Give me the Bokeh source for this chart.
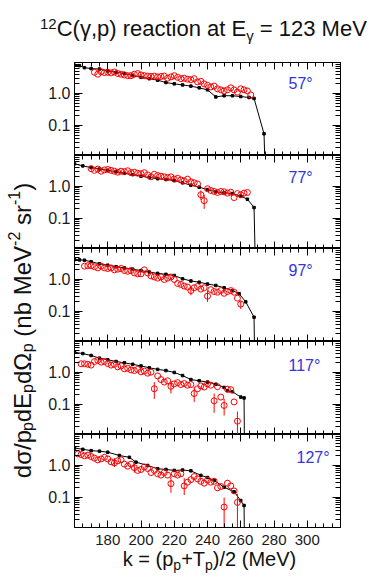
import math
from bokeh.plotting import figure
from bokeh.layouts import column, row
from bokeh.models import Range1d, LinearAxis, LogAxis, FixedTicker, PrintfTickFormatter, Label, Div
from bokeh.embed import file_html
from bokeh.resources import INLINE

FONT = "Liberation Sans"
CSS_FONT = "'Liberation Sans', Arial, sans-serif"
RED = "#ff0000"
BLUE = "#3434d8"

# ---------------- data ----------------
angles = ["57°", "77°", "97°", "117°", "127°"]

# 57 deg: measured (red) and calculation (black)
k57 = [172, 174, 176, 178, 180, 182, 184, 186, 188, 190, 192, 194, 196, 198, 200, 202, 204, 206, 208, 210,
       212, 214, 216, 218, 220, 222, 224, 226, 228, 230, 232, 234, 236, 238, 240, 242, 244, 246, 248, 250,
       252, 254, 256, 258, 260, 262, 264, 266]
v57 = [4.6, 4.0, 4.8, 4.5, 4.6, 4.4, 4.7, 4.2, 4.0, 3.8, 3.6, 3.6, 4.0, 4.2, 3.8, 3.6, 3.5, 3.4, 3.5, 3.3,
       3.4, 3.5, 3.0, 3.3, 3.6, 3.2, 2.9, 3.0, 2.8, 2.7, 2.9, 2.3, 2.4, 2.0, 1.8, 1.6, 1.7, 1.4, 1.3, 1.2,
       1.3, 1.5, 1.3, 1.1, 1.4, 1.3, 1.2, 0.9]
kc57 = [160, 163, 166, 170, 175, 180, 185, 190, 195, 200, 205, 210, 215, 220, 225, 230, 235, 240, 245, 250,
        255, 260, 265, 268, 274, 275]
c57 = [7.6, 7.4, 6.4, 6.0, 5.8, 5.0, 4.6, 4.2, 3.6, 3.2, 2.9, 2.6, 2.2, 2.0, 1.85, 1.7, 1.5, 1.3, 0.78, 0.85,
       0.85, 0.8, 0.75, 0.7, 0.055, 0.001]
ek57, elo57, ehi57 = [], [], []

# 77 deg
k77 = [170, 172, 174, 176, 178, 180, 182, 184, 186, 188, 190, 192, 194, 196, 198, 200, 202, 204, 206, 208,
       210, 212, 214, 216, 218, 220, 222, 224, 226, 228, 230, 232, 234, 236, 238, 240, 242, 244, 246, 248,
       250, 252, 254, 256, 258, 260, 262, 264]
v77 = [3.6, 3.2, 3.5, 3.0, 3.3, 3.4, 3.2, 3.0, 2.8, 3.0, 2.9, 3.1, 2.7, 2.8, 2.6, 2.5, 2.7, 2.3, 2.0, 2.4,
       2.2, 2.1, 2.0, 1.9, 2.0, 1.7, 1.8, 1.6, 1.5, 1.7, 1.4, 1.3, 1.2, 0.55, 0.36, 0.85, 0.75, 0.7, 0.65, 0.7,
       0.68, 0.62, 0.66, 0.45, 0.6, 0.55, 0.62, 0.65]
kc77 = [160, 165, 170, 175, 180, 185, 190, 195, 200, 205, 210, 215, 220, 225, 230, 235, 240, 245, 250, 255,
        260, 264, 268, 269]
c77 = [5.1, 4.4, 3.9, 3.5, 3.2, 2.9, 2.6, 2.35, 2.1, 1.9, 1.75, 1.65, 1.54, 1.3, 1.1, 0.95, 0.8, 0.68, 0.64, 0.6,
       0.5, 0.4, 0.22, 0.001]
ek77, elo77, ehi77 = [236, 238], [0.38, 0.2], [0.75, 0.55]

# 97 deg
k97 = [166, 168, 170, 172, 174, 176, 178, 180, 182, 184, 186, 188, 190, 192, 194, 196, 198, 200, 202, 204,
       206, 208, 210, 212, 214, 216, 218, 220, 222, 224, 226, 228, 230, 232, 234, 236, 238, 240, 242, 244,
       246, 248, 250, 252, 254, 256, 258, 260]
v97 = [2.6, 2.7, 2.7, 2.5, 2.3, 2.6, 2.3, 2.2, 2.3, 2.0, 2.1, 2.2, 1.9, 1.8, 1.9, 1.6, 1.5, 1.5, 2.0, 1.6,
       1.3, 1.2, 1.1, 1.2, 1.0, 1.1, 1.2, 1.0, 0.75, 0.7, 0.62, 0.58, 0.45, 0.55, 0.6, 0.5, 0.55, 0.3, 0.48, 0.42,
       0.4, 0.45, 0.37, 0.42, 0.45, 0.4, 0.26, 0.17]
kc97 = [160, 163, 166, 170, 175, 180, 185, 190, 195, 200, 205, 210, 215, 220, 225, 230, 235, 240, 245, 250,
        255, 259, 263, 268, 268.5]
c97 = [4.2, 4.1, 4.0, 3.6, 3.1, 2.8, 2.5, 2.3, 2.1, 1.9, 1.7, 1.55, 1.45, 1.33, 1.05, 0.9, 0.82, 0.72, 0.65, 0.55,
       0.45, 0.36, 0.2, 0.066, 0.001]
ek97, elo97, ehi97 = [230, 240, 260], [0.32, 0.2, 0.12], [0.6, 0.45, 0.22]

# 117 deg
k117 = [164, 166, 168, 170, 172, 174, 176, 178, 180, 182, 184, 186, 188, 190, 192, 194, 196, 198, 200, 202,
        204, 206, 208, 210, 212, 214, 216, 218, 220, 222, 224, 226, 228, 230, 232, 234, 236, 238, 240, 242,
        244, 246, 248, 250, 252, 254, 256, 258]
v117 = [1.87, 1.87, 1.8, 1.7, 2.2, 2.4, 2.1, 2.2, 1.9, 1.7, 1.8, 1.5, 1.6, 1.3, 1.35, 1.2, 1.15, 1.25, 1.05, 1.1,
        0.95, 1.02, 0.31, 0.78, 0.6, 0.5, 0.55, 0.37, 0.44, 0.48, 0.42, 0.45, 0.4, 0.42, 0.22, 0.31, 0.38, 0.35,
        0.44, 0.4, 0.13, 0.36, 0.17, 0.093, 0.3, 0.29, 0.12, 0.03]
kc117 = [160, 165, 170, 175, 180, 185, 190, 195, 200, 205, 210, 215, 220, 225, 230, 235, 240, 245, 250, 252,
         255, 260, 262, 262.3]
c117 = [4.3, 3.9, 3.4, 2.8, 2.5, 2.2, 2.0, 1.8, 1.6, 1.4, 1.25, 1.15, 1.0, 0.8, 0.6, 0.55, 0.5, 0.43, 0.34, 0.27,
        0.25, 0.17, 0.16, 0.001]
ek117 = [208, 218, 232, 244, 250, 258]
elo117 = [0.15, 0.22, 0.12, 0.055, 0.045, 0.005]
ehi117 = [0.5, 0.55, 0.35, 0.22, 0.15, 0.06]

# 127 deg
k127 = [162, 164, 166, 168, 170, 172, 174, 176, 178, 180, 182, 184, 186, 188, 190, 192, 194, 196, 198, 200,
        202, 204, 206, 208, 210, 212, 214, 216, 218, 220, 222, 224, 226, 228, 230, 232, 234, 236, 238, 240,
        242, 244, 246, 248, 250, 252, 254, 256, 258]
v127 = [2.3, 2.2, 2.0, 2.1, 1.9, 1.7, 1.5, 1.6, 1.8, 1.6, 1.3, 1.2, 1.4, 1.5, 1.1, 0.95, 1.1, 0.85, 0.7, 0.75,
        0.9, 0.8, 0.6, 0.7, 0.55, 0.5, 0.6, 0.5, 0.27, 0.55, 0.5, 0.55, 0.23, 0.3, 0.36, 0.45, 0.38, 0.32, 0.28,
        0.35, 0.3, 0.32, 0.2, 0.22, 0.05, 0.28, 0.23, 0.16, 0.07]
kc127 = [160, 165, 170, 175, 180, 187, 193, 197, 204, 210, 215, 220, 225, 230, 236, 240, 244, 250, 256, 260,
         262, 262.3]
c127 = [3.5, 3.2, 2.9, 2.8, 2.6, 2.05, 1.8, 1.27, 1.0, 0.79, 0.75, 0.7, 0.72, 0.68, 0.49, 0.42, 0.34, 0.21, 0.15,
        0.08, 0.056, 0.001]
ek127 = [184, 196, 218, 226, 250, 258]
elo127 = [0.9, 0.6, 0.14, 0.12, 0.001, 0.001]
ehi127 = [1.7, 1.1, 0.45, 0.4, 0.1, 0.13]

xticks_major = [180, 200, 220, 240, 260, 280, 300]
xticks_minor = list(range(160, 325, 5))
yticks_major = [0.01, 0.1, 1.0, 10.0]
yticks_minor = [m * d for d in (0.01, 0.1, 1.0) for m in range(2, 10)]

# ---------------- layout constants (page px; Bokeh's page has no body margin) ----------------
X0, X1 = 160, 320
Y0, Y1 = 0.0115, 9.3
FW, FH = 266, 93
STRIP_W = 44
LB, RB = 74 - STRIP_W, 35
PW = LB + FW + RB
TITLE_H = 62
BB = 24
XL_H = 27
STRIP_H = 5 * FH + BB + XL_H
BOTTOM = TITLE_H + STRIP_H

AW = {'k': 500, ' ': 278, '=': 584, '(': 333, ')': 333, 'p': 556, '+': 584, 'T': 611, '/': 278,
      '0': 556, '1': 556, '2': 556, '3': 556, 'M': 833, 'e': 556, 'V': 667, 'C': 722, 'γ': 500,
      ',': 278, 'r': 333, 'a': 556, 'c': 500, 't': 278, 'i': 222, 'o': 556, 'n': 556, 'E': 667,
      'd': 556, 'σ': 570, 'Ω': 768, 'b': 556, 's': 500, '-': 333}


def tw(s, px):
    return sum(AW.get(c, 556) for c in s) * px / 1000.0


def rich_rotated(fig, x, y, parts, color="#111111"):
    """Text reading bottom-to-top. parts: (text, font px, shift 'up' in px)."""
    for text, size, up in parts:
        lead = len(text) - len(text.lstrip(" "))
        body = text.strip(" ")
        adv0 = tw(" " * lead, size)
        if body:
            fig.add_layout(Label(x=x - up, y=y + adv0, x_units="screen", y_units="screen",
                                 text=body, angle=math.pi / 2, text_font=FONT,
                                 text_font_size=f"{size}px", text_color=color,
                                 text_align="left", text_baseline="alphabetic"))
        y += tw(text, size)


def blank(w, h):
    f = figure(width=w, height=h, x_range=Range1d(0, 1), y_range=Range1d(0, 1),
               output_backend="svg", toolbar_location=None, min_border=0,
               x_axis_location=None, y_axis_location=None, outline_line_color=None)
    f.xgrid.visible = False
    f.ygrid.visible = False
    return f


def style_axis(ax, major_in, minor_in, labels, size="15px", standoff=0):
    ax.axis_line_color = "black"
    ax.axis_line_width = 1
    ax.major_tick_line_color = "black"
    ax.minor_tick_line_color = "black"
    ax.major_tick_in = major_in
    ax.major_tick_out = 0
    ax.minor_tick_in = minor_in
    ax.minor_tick_out = 0
    ax.axis_label = None
    ax.major_label_text_font = FONT
    ax.major_label_text_font_size = size
    if labels:
        ax.major_label_text_color = "#1a1a1a"
        ax.major_label_standoff = standoff
    else:
        ax.major_label_text_color = None
        ax.major_label_standoff = 0


def make_panel(idx, kd, vd, kc, vc, ek, elo, ehi, ang, ax_, ay_):
    last = idx == 4
    p = figure(frame_width=FW, frame_height=FH, x_range=Range1d(X0, X1), y_range=Range1d(Y0, Y1),
               y_axis_type="log", output_backend="svg", toolbar_location=None,
               min_border_left=LB, min_border_right=RB,
               min_border_top=0, min_border_bottom=BB if last else 0,
               outline_line_color="black", outline_line_width=1,
               background_fill_color="white", border_fill_color="white")
    p.xgrid.visible = False
    p.ygrid.visible = False
    xt = FixedTicker(ticks=xticks_major, minor_ticks=xticks_minor)
    yt = FixedTicker(ticks=yticks_major, minor_ticks=yticks_minor)
    xa = p.xaxis[0]
    ya = p.yaxis[0]
    xa.ticker = xt
    ya.ticker = yt
    ya.formatter = PrintfTickFormatter(format="%.1f")
    style_axis(xa, 7, 4, last, "15px", 7)
    style_axis(ya, 8, 5, True, "16px", 4)
    top = LinearAxis(ticker=xt)
    style_axis(top, 7, 4, False)
    p.add_layout(top, "above")
    right = LogAxis(ticker=yt)
    style_axis(right, 8, 5, False)
    p.add_layout(right, "right")

    p.line(kc, vc, line_color="black", line_width=1)
    p.scatter(kc, vc, marker="square", size=2.5, color="black")
    if ek:
        p.segment(x0=ek, y0=elo, x1=ek, y1=ehi, line_color=RED, line_width=1)
    p.scatter(kd, vd, marker="circle", size=6, fill_color=None, line_color=RED, line_width=1)

    p.add_layout(Label(x=ax_, y=ay_, x_units="screen", y_units="screen", text=ang,
                       text_font=FONT, text_font_size="16px", text_color=BLUE,
                       text_baseline="alphabetic"))
    return p


panels_data = [
    (k57, v57, kc57, c57, ek57, elo57, ehi57),
    (k77, v77, kc77, c77, ek77, elo77, ehi77),
    (k97, v97, kc97, c97, ek97, elo97, ehi97),
    (k117, v117, kc117, c117, ek117, elo117, ehi117),
    (k127, v127, kc127, c127, ek127, elo127, ehi127),
]
label_pos = [(214, 72), (214, 71), (214, 71), (214, 69), (222, 70)]

figs = []
for i, d in enumerate(panels_data):
    figs.append(make_panel(i, *d, angles[i], *label_pos[i]))

SUP = "position:relative;font-size:{s}px;top:{t}px"

# title (HTML text with super/subscripts)
title_html = (
    f'<div style="padding-left:40px;padding-top:16px;line-height:25px;white-space:nowrap;'
    f'font-family:{CSS_FONT};font-size:22px;color:#111111">'
    f'<span style="{SUP.format(s=15, t=-7.5)}">12</span>C(γ,p) reaction at E'
    f'<span style="{SUP.format(s=15, t=4.5)}">γ</span> = 123 MeV</div>'
)
title_div = Div(text=title_html, width=STRIP_W + PW, height=TITLE_H, margin=0)

# x axis label
xl_html = (
    f'<div style="width:{PW}px;text-align:center;line-height:16px;white-space:nowrap;'
    f'font-family:{CSS_FONT};font-size:20px;color:#111111">'
    f'k = (p<span style="{SUP.format(s=14, t=4)}">p</span>+T'
    f'<span style="{SUP.format(s=14, t=4)}">p</span>)/2 (MeV)</div>'
)
xl_div = Div(text=xl_html, width=PW, height=XL_H, margin=0)

# strip with the rotated y axis label
strip = blank(STRIP_W, STRIP_H)
yl_parts = [("dσ/p", 24, 0), ("p", 16, -5), ("dE", 24, 0), ("p", 16, -5), ("dΩ", 24, 0), ("p", 16, -5),
            (" (nb MeV", 24, 0), ("-2", 16, 9), (" sr", 24, 0), ("-1", 16, 9), (")", 24, 0)]
yl_w = sum(tw(t, s) for t, s, _ in yl_parts)
center_py = 330
rich_rotated(strip, 22, (BOTTOM - center_py) - yl_w / 2, yl_parts, color="#111111")

layout = column(title_div, row(strip, column(*figs, xl_div, spacing=0), spacing=0), spacing=0)

with open("out.html", "w") as f:
    f.write(file_html(layout, INLINE))
